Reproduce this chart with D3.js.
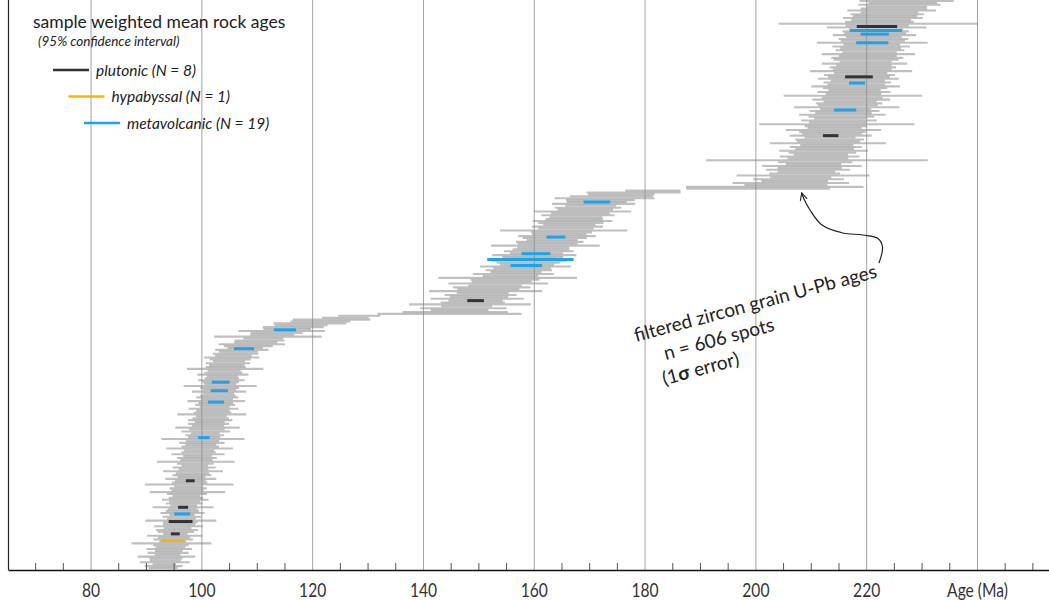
<!DOCTYPE html>
<html>
<head>
<meta charset="utf-8">
<title>Zircon U-Pb spot ages and sample weighted means</title>
<script src="https://cdnjs.cloudflare.com/ajax/libs/d3/7.8.5/d3.min.js"></script>
<style>
  html, body { margin: 0; padding: 0; background: #fff; }
  svg { display: block; font-family: Lato, "Open Sans", sans-serif; }
  .grid line { stroke: #a3a3a3; stroke-width: 1; }
  .minor line { stroke: #555; stroke-width: 1; }
  .minor path, .grid path { display: none; }
  .xaxis path { stroke: #111; stroke-width: 1.6; }
  .xaxis line { display: none; }
  .xaxis text { font-size: 19.5px; fill: #333; font-family: Lato, "Open Sans", sans-serif; }
  .legend text { fill: #222; }
  .note text { font-size: 19px; fill: #222; }
</style>
</head>
<body>
<svg id="chart" width="1049" height="600"></svg>
<script>

// Filtered zircon grain U-Pb spot ages (Ma), sorted
var spotAge = [
  93.1, 93.2, 93.3, 93.4, 93.5, 93.6, 93.7, 93.9, 94.0, 94.1,
  94.2, 94.4, 94.5, 94.6, 94.8, 94.9, 95.1, 95.2, 95.3, 95.4,
  95.6, 95.7, 95.9, 96.0, 96.2, 96.3, 96.4, 96.5, 96.5, 96.6,
  96.6, 96.6, 96.7, 96.8, 96.9, 97.0, 97.1, 97.2, 97.3, 97.4,
  97.5, 97.5, 97.6, 97.7, 97.8, 97.9, 98.0, 98.1, 98.2, 98.3,
  98.4, 98.5, 98.6, 98.7, 98.8, 98.9, 99.0, 99.1, 99.2, 99.3,
  99.4, 99.5, 99.6, 99.7, 99.8, 99.9, 100.1, 100.2, 100.3, 100.5,
  100.6, 100.7, 100.8, 101.0, 101.1, 101.2, 101.3, 101.5, 101.6, 101.7,
  101.8, 101.9, 102.0, 102.1, 102.2, 102.4, 102.5, 102.6, 102.7, 102.8,
  102.9, 103.0, 103.1, 103.2, 103.3, 103.3, 103.4, 103.4, 103.5, 103.6,
  103.7, 103.8, 103.9, 104.0, 104.1, 104.3, 104.4, 104.6, 104.8, 105.0,
  105.2, 105.5, 105.8, 106.2, 106.7, 107.3, 107.9, 108.5, 109.1, 109.8,
  110.5, 111.2, 112.0, 112.8, 113.6, 114.5, 115.5, 116.6, 118.0, 119.6,
  121.5, 123.5, 126.0, 128.5,
  144.8, 145.8, 146.6, 147.3, 147.9, 148.5, 149.0, 149.5, 149.8, 150.1,
  150.4, 150.8, 151.3, 151.8, 152.4, 153.0, 153.6, 154.2, 154.8, 155.3,
  155.8, 156.3, 156.8, 157.3, 157.9, 158.5, 158.8, 159.0, 159.2, 159.5,
  159.8, 160.1, 160.5, 160.9, 161.3, 161.7, 162.1, 162.5, 162.9, 163.3,
  163.8, 164.2, 164.6, 165.0, 165.4, 165.8, 166.1, 166.4, 166.7, 167.0,
  167.3, 167.6, 168.0, 168.4, 168.8, 169.3, 169.8, 170.3, 170.8, 171.4,
  172.0, 172.8, 174.0, 175.8, 178.0, 181.5,
  200.5, 203.5, 205.5, 206.4, 207.1, 207.8, 208.2, 208.6, 208.9, 209.2,
  209.5, 209.8, 210.2, 210.5, 210.8, 211.1, 211.3, 211.6, 211.8, 212.1,
  212.3, 212.5, 212.7, 212.9, 213.1, 213.2, 213.4, 213.5, 213.6, 213.8,
  213.9, 214.1, 214.3, 214.5, 214.7, 214.9, 215.1, 215.3, 215.5, 215.7,
  215.9, 216.1, 216.3, 216.5, 216.7, 216.9, 217.1, 217.3, 217.5, 217.6,
  217.7, 217.8, 217.9, 218.0, 218.1, 218.2, 218.4, 218.5, 218.6, 218.7,
  218.8, 219.0, 219.1, 219.3, 219.4, 219.6, 219.7, 219.9, 220.0, 220.2,
  220.3, 220.4, 220.6, 220.7, 220.8, 220.9, 221.0, 221.1, 221.2, 221.3,
  221.4, 221.5, 221.6, 221.7, 221.8, 221.9, 222.0, 222.2, 222.4, 222.7,
  223.0, 223.4, 223.8, 224.2, 224.6, 225.0, 225.5, 226.0, 226.6, 227.3
];

// 1 sigma error of each spot (Ma)
var spotErr = [
  2.6, 3.4, 2.1, 4.5, 2.8, 3.0, 5.2, 2.3, 3.7, 2.5,
  4.1, 2.7, 3.2, 7.2, 2.4, 3.6, 2.9, 5.0, 2.2, 3.3,
  3.8, 2.5, 4.4, 2.9, 3.1, 6.4, 2.6, 3.5, 2.3, 4.0,
  3.0, 2.7, 5.5, 2.4, 3.3, 2.8, 4.2, 3.1, 2.5, 3.6,
  6.8, 2.9, 3.4, 2.6, 8.0, 3.2, 2.8, 4.6, 2.5, 3.5,
  3.0, 5.4, 2.7, 3.9, 2.4, 3.3, 7.0, 2.9, 3.6, 2.6,
  4.8, 3.1, 2.7, 6.0, 3.4, 2.8, 4.1, 3.0, 7.5, 2.9,
  3.5, 2.6, 4.4, 3.2, 5.8, 2.9, 3.7, 2.7, 4.0, 3.3,
  2.8, 6.2, 3.4, 3.0, 4.5, 2.7, 3.6, 3.1, 5.2, 2.9,
  3.8, 3.2, 2.8, 4.9, 3.0, 3.5, 6.6, 2.9, 3.3, 4.2,
  3.1, 2.8, 4.6, 3.4, 3.0, 6.9, 3.6, 3.2, 4.0, 2.9,
  3.7, 5.0, 3.3, 4.1, 3.5, 4.8, 3.2, 4.4, 6.0, 3.9,
  4.5, 3.6, 9.7, 4.0, 4.7, 7.8, 4.3, 5.5, 4.8, 6.6,
  5.4, 7.0, 4.2, 3.8,
  13.0, 9.5, 5.2, 7.8, 4.6, 11.0, 5.8, 4.9, 8.4, 5.3,
  6.5, 4.7, 10.2, 5.6, 7.0, 4.8, 9.0, 5.4, 6.2, 12.5,
  5.0, 7.3, 4.6, 6.0, 5.2, 8.2, 4.9, 5.7, 6.8, 4.5,
  5.5, 7.6, 4.8, 6.3, 5.1, 4.7, 9.8, 5.4, 6.1, 4.6,
  5.8, 7.0, 4.9, 5.5, 11.5, 5.0, 6.4, 4.7, 5.9, 7.2,
  5.2, 4.8, 6.6, 5.3, 8.8, 5.0, 6.0, 4.6, 7.5, 5.4,
  6.2, 9.0, 7.5, 6.0, 8.5, 5.0,
  13.0, 16.0, 7.5, 10.5, 6.0, 8.2, 5.5, 12.0, 6.4, 5.2,
  7.6, 5.8, 9.0, 5.0, 6.7, 20.0, 5.5, 7.2, 4.9, 6.1,
  8.0, 5.3, 6.5, 4.8, 10.5, 5.7, 6.2, 4.6, 7.4, 5.4,
  6.0, 8.6, 4.9, 5.6, 14.0, 5.2, 6.8, 4.7, 5.9, 7.8,
  5.1, 6.3, 4.6, 9.5, 5.4, 6.0, 4.8, 7.0, 5.5, 12.5,
  5.0, 6.6, 4.7, 5.8, 8.0, 5.2, 6.1, 4.9, 7.3, 5.6,
  6.4, 4.8, 9.2, 5.3, 6.0, 5.0, 7.7, 4.7, 5.9, 6.5,
  5.2, 8.4, 4.9, 6.2, 5.5, 7.0, 5.1, 10.0, 5.8, 6.3,
  5.0, 7.5, 5.6, 6.0, 4.9, 9.0, 5.7, 18.0, 6.2, 5.4,
  7.2, 5.8, 6.6, 5.2, 8.0, 6.0, 5.5, 7.4, 6.2, 8.5
];

// Sample weighted mean rock ages, 95% confidence half-widths (Ma)
var rockType = [
  "plutonic", "metavolcanic", "metavolcanic", "metavolcanic", "plutonic", "metavolcanic", "metavolcanic", "plutonic",
  "metavolcanic", "metavolcanic", "metavolcanic", "metavolcanic", "metavolcanic", "plutonic",
  "metavolcanic", "metavolcanic", "metavolcanic", "metavolcanic", "metavolcanic", "metavolcanic",
  "plutonic", "metavolcanic", "plutonic", "plutonic", "plutonic", "hypabyssal"
];
var rockAge = [
  221.95, 221.75, 221.55, 221.1, 218.7, 218.35, 216.2, 213.6,
  171.4, 164.0, 160.4, 159.4, 158.65, 149.5,
  115.1, 107.7, 103.5, 103.25, 102.65, 100.45,
  98.0, 96.55, 96.7, 96.25, 95.3, 94.85
];
var rockErr = [
  3.65, 4.7, 2.55, 2.9, 2.5, 1.45, 2.0, 1.4,
  2.4, 1.7, 2.6, 7.8, 2.85, 1.5,
  2.0, 1.8, 1.6, 1.55, 1.45, 1.05,
  0.8, 1.45, 0.9, 2.15, 0.8, 2.15
];

var legendTypes = ["plutonic", "hypabyssal", "metavolcanic"];
var legendCounts = [8, 1, 19];
var typeColor = { plutonic: "#333333", hypabyssal: "#f8b500", metavolcanic: "#18a4f0" };

var majorTicks = [80, 100, 120, 140, 160, 180, 200, 220, 240];
var tickLabels = ["80", "100", "120", "140", "160", "180", "200", "220", "Age (Ma)"];
var minorTicks = d3.range(70, 251, 5).filter(function (v) { return v % 20 !== 0; });

var W = 1049, plotBottom = 570;
var svg = d3.select("#chart");

var x = d3.scaleLinear().domain([65.1, 253]).range([8, W]);
var y = d3.scaleLinear().domain([0, spotAge.length - 1]).range([568, 1]);

// rank position of an age on the sorted spot list
function rankOf(age) {
  var i = d3.bisectLeft(spotAge, age);
  if (i <= 0) return 0;
  if (i >= spotAge.length) return spotAge.length - 1;
  var a0 = spotAge[i - 1], a1 = spotAge[i];
  return i - 1 + (a1 > a0 ? (age - a0) / (a1 - a0) : 0.5);
}

// vertical grid at every 20 Ma
svg.append("g")
  .attr("class", "grid")
  .attr("transform", "translate(0," + plotBottom + ")")
  .call(d3.axisBottom(x).tickValues(majorTicks).tickSize(-plotBottom).tickFormat(""));

// spot error bars
var spots = spotAge.map(function (a, i) { return { age: a, err: spotErr[i], i: i }; });
svg.append("g").selectAll("line")
  .data(spots)
  .enter().append("line")
  .attr("x1", function (d) { return x(d.age - d.err); })
  .attr("x2", function (d) { return x(d.age + d.err); })
  .attr("y1", function (d) { return y(d.i); })
  .attr("y2", function (d) { return y(d.i); })
  .attr("stroke", "#8a8a8a")
  .attr("stroke-opacity", 0.55)
  .attr("stroke-width", 2.1);

// weighted mean bars
var rocks = rockAge.map(function (a, i) { return { age: a, err: rockErr[i], type: rockType[i] }; });
svg.append("g").selectAll("line")
  .data(rocks)
  .enter().append("line")
  .attr("x1", function (d) { return x(d.age - d.err); })
  .attr("x2", function (d) { return x(d.age + d.err); })
  .attr("y1", function (d) { return y(rankOf(d.age)); })
  .attr("y2", function (d) { return y(rankOf(d.age)); })
  .attr("stroke", function (d) { return typeColor[d.type]; })
  .attr("stroke-width", 3);

// minor ticks
svg.append("g")
  .attr("class", "minor")
  .attr("transform", "translate(0," + plotBottom + ")")
  .call(d3.axisBottom(x).tickValues(minorTicks).tickSize(-7).tickFormat(""));

// axis line and labels
var xAxis = svg.append("g")
  .attr("class", "xaxis")
  .attr("transform", "translate(0," + plotBottom + ")")
  .call(d3.axisBottom(x).tickValues(majorTicks).tickSizeOuter(0).tickSize(0).tickPadding(13)
    .tickFormat(function (d, i) { return tickLabels[i]; }));
xAxis.selectAll("text").attr("transform", "scale(0.8,1)");

// left frame
svg.append("line")
  .attr("x1", 8.5).attr("x2", 8.5).attr("y1", 0).attr("y2", plotBottom)
  .attr("stroke", "#222").attr("stroke-width", 1.2);

// legend
var legend = svg.append("g").attr("class", "legend");
legend.append("text").attr("x", 33).attr("y", 28)
  .style("font-size", "17.5px").text("sample weighted mean rock ages");
legend.append("text").attr("x", 38).attr("y", 46)
  .style("font-size", "13.5px").style("font-style", "italic").text("(95% confidence interval)");

var item = legend.selectAll("g.item")
  .data(legendTypes)
  .enter().append("g")
  .attr("class", "item")
  .attr("transform", function (d, i) { return "translate(" + (53 + i * 15.5) + "," + (70 + i * 26.5) + ")"; });
item.append("line")
  .attr("x1", 0).attr("x2", 36)
  .attr("stroke", function (d) { return typeColor[d]; })
  .attr("stroke-width", 2.6);
item.append("text")
  .attr("x", 43).attr("y", 5.5)
  .style("font-size", "15.5px").style("font-style", "italic")
  .text(function (d, i) { return d + " (N = " + legendCounts[i] + ")"; });

// annotation
var note = svg.append("g").attr("class", "note")
  .attr("transform", "translate(636,342) rotate(-15)");
note.append("text").attr("x", 0).attr("y", 0).text("filtered zircon grain U-Pb ages");
note.append("text").attr("x", 24).attr("y", 25).text("n = 606 spots");
var t3 = note.append("text").attr("x", 16).attr("y", 49);
t3.append("tspan").text("(1");
t3.append("tspan").style("font-weight", "bold").text("σ");
t3.append("tspan").text(" error)");

svg.append("defs").append("marker")
  .attr("id", "arrow")
  .attr("viewBox", "0 0 10 10")
  .attr("refX", 9).attr("refY", 5)
  .attr("markerWidth", 9).attr("markerHeight", 9)
  .attr("markerUnits", "userSpaceOnUse")
  .attr("orient", "auto")
  .append("path")
  .attr("d", "M1,1 L9,5 L1,9")
  .attr("fill", "none").attr("stroke", "#222").attr("stroke-width", 1.2);

var arrowPts = [[879, 263], [882.5, 247], [878, 238.5], [863, 235], [843, 233], [822, 225], [810, 210], [803.5, 198], [801.7, 193]];
svg.append("path")
  .attr("d", d3.line().curve(d3.curveCatmullRom)(arrowPts))
  .attr("fill", "none").attr("stroke", "#222").attr("stroke-width", 1.2)
  .attr("marker-end", "url(#arrow)");

</script>
</body>
</html>
